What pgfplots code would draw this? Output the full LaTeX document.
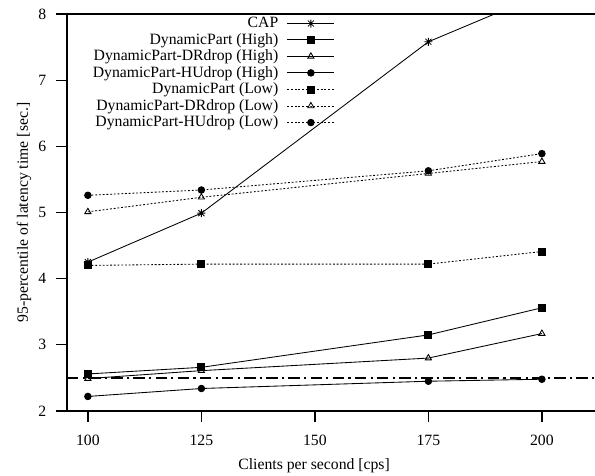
\documentclass[border=0pt]{standalone}
\usepackage{fontspec}
\setmainfont{Liberation Serif}
\usepackage{pgfplots}
\pgfplotsset{compat=1.18}

% gnuplot-like star: plus and cross together
\pgfdeclareplotmark{gpstar}{%
  \pgfpathmoveto{\pgfqpoint{-\pgfplotmarksize}{0pt}}%
  \pgfpathlineto{\pgfqpoint{\pgfplotmarksize}{0pt}}%
  \pgfpathmoveto{\pgfqpoint{0pt}{-\pgfplotmarksize}}%
  \pgfpathlineto{\pgfqpoint{0pt}{\pgfplotmarksize}}%
  \pgfpathmoveto{\pgfqpoint{-0.75\pgfplotmarksize}{-0.75\pgfplotmarksize}}%
  \pgfpathlineto{\pgfqpoint{0.75\pgfplotmarksize}{0.75\pgfplotmarksize}}%
  \pgfpathmoveto{\pgfqpoint{-0.75\pgfplotmarksize}{0.75\pgfplotmarksize}}%
  \pgfpathlineto{\pgfqpoint{0.75\pgfplotmarksize}{-0.75\pgfplotmarksize}}%
  \pgfusepathqstroke}

\begin{document}
\begin{tikzpicture}
\fontsize{11}{13}\selectfont
\begin{axis}[
    scale only axis,
    width=369.6pt, height=277.9pt,
    xmin=95.4, xmax=211.7,
    ymin=2, ymax=8,
    axis x line*=box, axis y line*=left,
    axis line style={line width=1pt},
    xtick={100,125,150,175,200},
    ytick={2,3,4,5,6,7,8},
    xtick pos=bottom, ytick pos=left,
    tick align=outside,
    major tick length=7.7pt,
    tick style={line width=0.9pt, black},
    /pgf/number format/assume math mode=true,
    tick label style={font=\fontsize{11}{13}\selectfont},
    yticklabel style={xshift=-3pt},
    xticklabel style={yshift=-5pt},
    xlabel={Clients per second [cps]},
    ylabel={95-percentile of latency time [sec.]},
    every axis x label/.style={at={(axis description cs:0.468,0)}, anchor=north, yshift=-29.6pt, font=\fontsize{11}{13}\selectfont},
    every axis y label/.style={at={(axis description cs:0,0.5)}, xshift=-21.2pt, rotate=90, anchor=south, font=\fontsize{11}{13}\selectfont},
    legend plot pos=right,
    legend cell align=right,
    legend style={draw=none, fill=none, font=\fontsize{11}{13}\selectfont,
        at={(rel axis cs:0.516,1)}, yshift=2pt, anchor=north east, row sep=-1.7pt, column sep=4pt},
    legend image code/.code={
        \draw[mark repeat=2, mark phase=2, #1] plot coordinates {(0cm,0cm) (0.58cm,0cm) (1.16cm,0cm)};
    },
    every axis plot/.append style={line width=0.6pt, black},
]
\coordinate (lo) at (rel axis cs:0,0);
\coordinate (hi) at (rel axis cs:1,1);
% SLA threshold
\addplot[forget plot, line width=1.2pt, dash pattern=on 8pt off 3pt on 1.5pt off 3pt] coordinates {(95.4,2.5) (211.7,2.5)};

\addplot[mark=gpstar, mark size=2.8pt] coordinates {(100,4.25) (125,4.99) (175,7.58) (200,8.30)};
\addlegendentry{CAP}
\addplot[mark=square*, mark size=2.45pt] coordinates {(100,2.56) (125,2.66) (175,3.15) (200,3.56)};
\addlegendentry{DynamicPart (High)}
\addplot[mark=triangle, mark size=2.5pt, mark options={fill=white, solid}] coordinates {(100,2.49) (125,2.61) (175,2.80) (200,3.17)};
\addlegendentry{DynamicPart-DRdrop (High)}
\addplot[mark=*, mark size=2.3pt] coordinates {(100,2.22) (125,2.34) (175,2.45) (200,2.48)};
\addlegendentry{DynamicPart-HUdrop (High)}
\addplot[mark=square*, mark size=2.45pt, dash pattern=on 1.3pt off 1.3pt, mark options={solid}] coordinates {(100,4.20) (125,4.22) (175,4.22) (200,4.41)};
\addlegendentry{DynamicPart (Low)}
\addplot[mark=triangle, mark size=2.5pt, dash pattern=on 1.3pt off 1.3pt, mark options={fill=white, solid}] coordinates {(100,5.01) (125,5.23) (175,5.59) (200,5.77)};
\addlegendentry{DynamicPart-DRdrop (Low)}
\addplot[mark=*, mark size=2.3pt, dash pattern=on 1.3pt off 1.3pt, mark options={solid}] coordinates {(100,5.26) (125,5.34) (175,5.63) (200,5.89)};
\addlegendentry{DynamicPart-HUdrop (Low)}
\end{axis}
% frame of the reference image around the axis box
\pgfresetboundingbox
\path[use as bounding box] ([xshift=-46.9pt,yshift=-45.5pt]lo) rectangle ([yshift=9.8pt]hi);
\end{tikzpicture}
\end{document}
